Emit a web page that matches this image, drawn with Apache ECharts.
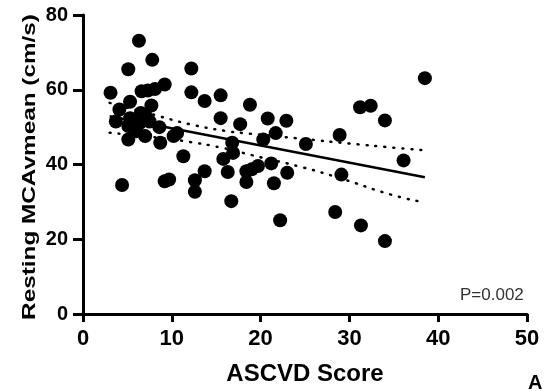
<!DOCTYPE html>
<html>
<head>
<meta charset="utf-8">
<script src="https://cdn.jsdelivr.net/npm/echarts@6/dist/echarts.min.js"></script>
<style>
  html, body { margin: 0; padding: 0; background: #fff; }
  #chart { width: 550px; height: 391px; }
</style>
</head>
<body>
<div id="chart"></div>
<script>
// ASCVD score vs resting MCAvmean
var points = [
    [3.1, 59.2], [4.1, 54.7], [3.7, 51.5], [5.1, 65.5], [6.3, 73.1], [7.8, 68.0],
    [5.3, 56.8], [6.6, 59.6], [7.3, 59.8], [8.1, 60.2], [9.2, 61.4], [7.7, 55.8],
    [6.5, 53.8], [7.0, 53.3], [5.3, 52.4], [5.1, 50.3], [6.4, 51.1], [7.5, 51.5],
    [8.6, 50.0], [6.0, 48.9], [5.1, 46.7], [7.0, 47.6], [8.7, 45.8], [10.2, 47.6],
    [10.6, 48.4], [4.4, 34.5], [9.2, 35.5], [9.7, 36.0],
    [12.2, 65.7], [12.2, 59.3], [13.7, 57.0], [15.5, 58.5], [15.5, 52.4], [11.3, 42.2],
    [12.6, 35.8], [12.6, 32.7], [13.7, 38.2], [15.8, 41.5], [16.8, 45.8], [16.9, 43.1],
    [16.3, 38.0], [16.7, 30.2], [17.7, 50.8], [18.8, 56.0], [18.4, 38.2], [19.0, 38.7],
    [19.7, 39.6], [18.4, 35.3], [20.3, 46.7], [20.8, 52.3], [21.7, 48.4], [21.2, 40.3],
    [21.5, 35.0], [22.9, 51.7], [23.0, 37.8], [22.2, 25.1], [25.1, 45.5],
    [28.9, 47.9], [29.1, 37.3], [28.4, 27.3], [31.2, 55.3], [32.4, 55.7], [34.0, 51.8],
    [31.3, 23.7], [34.0, 19.5], [36.1, 41.1], [38.5, 63.1]
];

// regression line and 95% band
var fitLine = [[3, 52.9], [38.5, 36.6]];
var upperBand = [[3, 56.5], [8, 53.3], [12, 50.8], [16, 49.0], [19, 48.2], [25, 46.8], [30, 45.6], [35, 44.5], [38.5, 43.8]];
var lowerBand = [[3, 48.5], [8, 47.3], [11.3, 46.3], [15.8, 44.4], [19, 42.5], [24.8, 39.2], [29, 36.3], [34.6, 32.0], [38.5, 29.8]];

var xTicks = [0, 10, 20, 30, 40, 50];
var yTicks = [0, 20, 40, 60, 80];
var xTitle = 'ASCVD Score';
var yTitle = 'Resting MCAvmean (cm/s)';
var pText = 'P=0.002';

var font = 'Liberation Sans, Arial, sans-serif';
var chart = echarts.init(document.getElementById('chart'));

var option = {
    animation: false,
    backgroundColor: '#fff',
    grid: { left: 83, right: 23, top: 15, bottom: 76 },
    xAxis: {
        type: 'value',
        min: xTicks[0],
        max: xTicks[xTicks.length - 1],
        interval: 10,
        name: xTitle,
        nameLocation: 'middle',
        nameGap: 48,
        nameTextStyle: { color: '#000', fontSize: 24, fontWeight: 'bold', fontFamily: font },
        axisLine: { lineStyle: { color: '#000', width: 3 } },
        axisTick: { length: 8, lineStyle: { color: '#000', width: 3 } },
        axisLabel: { color: '#000', fontSize: 22, fontWeight: 'bold', fontFamily: font, margin: 14 },
        splitLine: { show: false }
    },
    yAxis: {
        type: 'value',
        min: yTicks[0],
        max: yTicks[yTicks.length - 1],
        interval: 20,
        axisLine: { show: true, lineStyle: { color: '#000', width: 3 } },
        axisTick: { show: true, length: 10, lineStyle: { color: '#000', width: 3 } },
        axisLabel: { color: '#000', fontSize: 20, fontWeight: 'bold', fontFamily: font, margin: 15 },
        splitLine: { show: false }
    },
    series: [
        {
            type: 'line',
            data: fitLine,
            symbol: 'none',
            z: 1,
            lineStyle: { color: '#000', width: 2.5 }
        },
        {
            type: 'line',
            data: upperBand,
            smooth: true,
            symbol: 'none',
            z: 1,
            lineStyle: { color: '#000', width: 2.5, type: [1, 8], cap: 'round' }
        },
        {
            type: 'line',
            data: lowerBand,
            smooth: true,
            symbol: 'none',
            z: 1,
            lineStyle: { color: '#000', width: 2.5, type: [1, 8], cap: 'round' }
        },
        {
            type: 'scatter',
            data: points,
            symbol: 'circle',
            symbolSize: 14,
            z: 3,
            itemStyle: { color: '#000', opacity: 1 }
        }
    ],
    graphic: [
        {
            // y title is drawn a bit stretched along its length in the original
            type: 'text',
            x: 30,
            y: 167,
            rotation: Math.PI / 2,
            scaleX: 1.28,
            style: {
                text: yTitle, fill: '#000', font: 'bold 19px ' + font,
                textAlign: 'center', textVerticalAlign: 'middle'
            }
        },
        {
            type: 'text',
            left: 460,
            top: 287,
            style: { text: pText, fill: '#333', font: '17px ' + font }
        },
        {
            type: 'text',
            left: 528,
            top: 373,
            style: { text: 'A', fill: '#000', font: 'bold 20px ' + font }
        }
    ]
};

chart.setOption(option);
</script>
</body>
</html>
